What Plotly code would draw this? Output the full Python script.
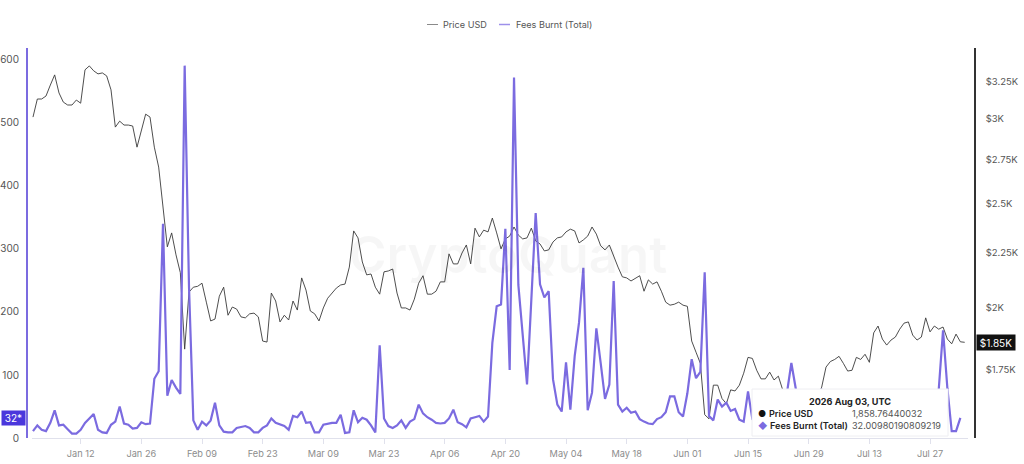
import pandas as pd
import plotly.graph_objects as go

W = 1024
H = 464

start_date = "2026-01-01"

price_usd = [
    3010, 3129, 3129, 3149, 3224, 3295, 3170, 3108, 3089, 3089, 3122, 3101, 3331, 3359, 3324, 3302, 3309, 3288,
    3191, 2946, 2984, 2959, 2959, 2953, 2822, 2927, 3029, 3010, 2822, 2704, 2466, 2279, 2348, 2240, 2156, 1830,
    2068, 2090, 2094, 2108, 2024, 1944, 1952, 2050, 2090, 1968, 2003, 1994, 1961, 1957, 1974, 1977, 1961, 1862,
    1858, 2064, 2029, 1940, 1968, 1948, 2029, 1990, 2132, 2077, 1986, 1974, 1944, 1999, 2041, 2064, 2086, 2100,
    2104, 2182, 2358, 2323, 2206, 2146, 2150, 2090, 2059, 2160, 2164, 2173, 2064, 1999, 1999, 1990, 2037, 2108,
    2142, 2059, 2059, 2072, 2114, 2114, 2245, 2197, 2197, 2249, 2288, 2197, 2372, 2328, 2362, 2353, 2424, 2348,
    2269, 2318, 2332, 2378, 2337, 2318, 2323, 2372, 2308, 2293, 2259, 2264, 2303, 2323, 2328, 2353, 2367, 2358,
    2298, 2313, 2332, 2378, 2342, 2284, 2264, 2288, 2231, 2182, 2137, 2132, 2118, 2132, 2142, 2072, 2123, 2104,
    2114, 2072, 2024, 2011, 2015, 2024, 2011, 2006, 1862, 1818, 1775, 1590, 1576, 1694, 1694, 1646, 1628, 1677,
    1673, 1694, 1738, 1798, 1794, 1749, 1717, 1717, 1742, 1713, 1727, 1677, 1659, 1635, 1606, 1590, 1580, 1580,
    1606, 1648, 1687, 1761, 1782, 1790, 1802, 1775, 1746, 1749, 1798, 1790, 1810, 1779, 1895, 1923, 1870, 1846,
    1866, 1878, 1910, 1935, 1940, 1886, 1866, 1878, 1957, 1899, 1923, 1910, 1919, 1870, 1851, 1890, 1859, 1857,
]

# last day has no fees value yet
fees_burnt = [
    11, 20, 13, 11, 24, 44, 20, 21, 14, 7, 7, 13, 24, 31, 38, 13, 9, 8, 21, 26, 50, 23, 21, 15, 16, 25, 22, 23,
    94, 106, 340, 67, 92, 80, 70, 591, 240, 28, 13, 26, 20, 28, 56, 20, 10, 9, 9, 16, 17, 19, 16, 9, 9, 16, 20,
    31, 24, 21, 19, 13, 35, 33, 42, 24, 25, 9, 9, 21, 23, 24, 24, 37, 8, 9, 44, 25, 32, 29, 20, 9, 147, 31, 19,
    16, 20, 28, 16, 26, 30, 53, 39, 33, 29, 24, 23, 24, 31, 45, 25, 22, 17, 31, 33, 35, 26, 34, 151, 209, 212,
    332, 108, 572, 243, 164, 85, 220, 357, 244, 223, 233, 93, 53, 42, 120, 45, 130, 183, 270, 44, 72, 174, 119,
    62, 85, 249, 53, 42, 48, 40, 42, 30, 26, 23, 22, 30, 33, 41, 66, 66, 41, 34, 71, 125, 95, 105, 263, 35, 28,
    61, 50, 56, 43, 46, 29, 26, 74, 30, 22, 20, 27, 25, 30, 24, 26, 76, 119, 79, 24, 18, 15, 20, 30, 78, 45, 30,
    22, 28, 35, 20, 18, 26, 30, 24, 40, 33, 25, 19, 22, 35, 28, 21, 24, 30, 27, 20, 33, 26, 22, 45, 76, 171, 79,
    11, 11, 32,
]

x_tick_dates = ["2026-01-12", "2026-01-26", "2026-02-09", "2026-02-23", "2026-03-09", "2026-03-23", "2026-04-06",
                "2026-04-20", "2026-05-04", "2026-05-18", "2026-06-01", "2026-06-15", "2026-06-29", "2026-07-13",
                "2026-07-27"]
x_tick_labels = ["Jan 12", "Jan 26", "Feb 09", "Feb 23", "Mar 09", "Mar 23", "Apr 06", "Apr 20", "May 04", "May 18",
                 "Jun 01", "Jun 15", "Jun 29", "Jul 13", "Jul 27"]
fees_ticks = [0, 100, 200, 300, 400, 500, 600]
price_ticks = [1750, 2000, 2250, 2500, 2750, 3000, 3250]
price_tick_labels = ["$1.75K", "$2K", "$2.25K", "$2.5K", "$2.75K", "$3K", "$3.25K"]

PURPLE = "#7b6be0"
FONT = "Inter"


def px(x):
    return x / W


def py(y):
    return 1 - y / H


def label(x, y, text, size=9.1, color="#333333", anchor="left", weight=400, **kw):
    fig.add_annotation(xref="paper", yref="paper", x=px(x), y=py(y), text=text, showarrow=False, xanchor=anchor,
                       yanchor="middle", font=dict(family=FONT, size=size, color=color, weight=weight),
                       borderpad=0, **kw)


def legend_line(x0, x1, color, width):
    fig.add_shape(type="line", xref="paper", yref="paper", x0=px(x0), x1=px(x1), y0=py(24.5), y1=py(24.5),
                  line=dict(color=color, width=width))


dates = pd.date_range(start_date, periods=len(price_usd), freq="D")

fig = go.Figure()
fig.add_trace(go.Scatter(x=dates, y=price_usd, name="Price USD", mode="lines", yaxis="y",
                         line=dict(color="#3a3a3a", width=0.9)))
fig.add_trace(go.Scatter(x=dates[:len(fees_burnt)], y=fees_burnt, name="Fees Burnt (Total)", mode="lines", yaxis="y2",
                         line=dict(color=PURPLE, width=2.2)))

fig.update_layout(
    width=W, height=H, margin=dict(l=0, r=0, t=0, b=0, autoexpand=False), paper_bgcolor="white", plot_bgcolor="white",
    font=dict(family=FONT, size=10, color="#555555"), showlegend=False,
    xaxis=dict(domain=[px(32), px(968)], range=["2025-12-31 18:30", "2026-08-04 18:15"], tickvals=x_tick_dates,
               ticktext=x_tick_labels, showgrid=False, zeroline=False, showline=True, linecolor="#e0e1ec", linewidth=1,
               ticks="outside", ticklen=5, tickcolor="#e0e1ec", ticklabelstandoff=2,
               tickfont=dict(size=9.2, color="#8c8c8c")),
    yaxis=dict(domain=[py(438), py(48)], type="log", range=[3.1797, 3.5429], side="right", anchor="free",
               position=px(975), tickvals=price_ticks, ticktext=price_tick_labels, showgrid=False, zeroline=False,
               showline=True, linecolor="#333333", linewidth=1.5, ticks="", ticklabelstandoff=8,
               tickfont=dict(size=9.5, color="#555555")),
    yaxis2=dict(domain=[py(438), py(48)], range=[0, 619], side="left", overlaying="y", anchor="free",
                position=px(27), tickvals=fees_ticks, showgrid=False, zeroline=False, showline=True,
                linecolor=PURPLE, linewidth=2, ticks="", ticklabelstandoff=5,
                tickfont=dict(size=10, color="#555555")),
)

# legend row
legend_line(427, 438, "#8a8a8a", 1)
label(442, 24.5, "Price USD", color="#555555")
legend_line(499, 510, "#9d90ea", 1.5)
label(515, 24.5, "Fees Burnt (Total)", color="#555555")

# watermark
label(508, 255, "CryptoQuant", size=51, color="rgba(0,0,0,0.035)", anchor="center", weight=600)

# last value tags on the axes
fig.add_annotation(xref="paper", yref="y2", x=px(13.5), y=fees_burnt[-1], text="32*", showarrow=False, xanchor="center",
                   font=dict(family=FONT, size=10, color="white"), bgcolor="#4a37dc", width=23, height=14,
                   borderpad=0)
label(996, 342, "$1.85K", size=10, color="white", anchor="center", bgcolor="#111111", width=38, height=15)

# tooltip box
fig.add_shape(type="rect", xref="paper", yref="paper", x0=px(752), x1=px(948), y0=py(436), y1=py(389), layer="above",
              fillcolor="white", line=dict(color="#eeeef2", width=1))
label(850, 401, "2026 Aug 03, UTC", color="#222222", anchor="center", weight=700)
label(757, 413, "●", size=9, color="#111111")
label(768, 413, "Price USD", color="#222222", weight=600)
label(851, 413, "1,858.76440032", color="#555555")
label(757, 425, "◆", size=9, color=PURPLE)
label(769, 425, "Fees Burnt (Total)", color="#222222", weight=600)
label(851, 425, "32.00980190809219", color="#555555")

fig.write_html("out.html", config=dict(displayModeBar=False), post_script="document.body.style.margin='0';")
